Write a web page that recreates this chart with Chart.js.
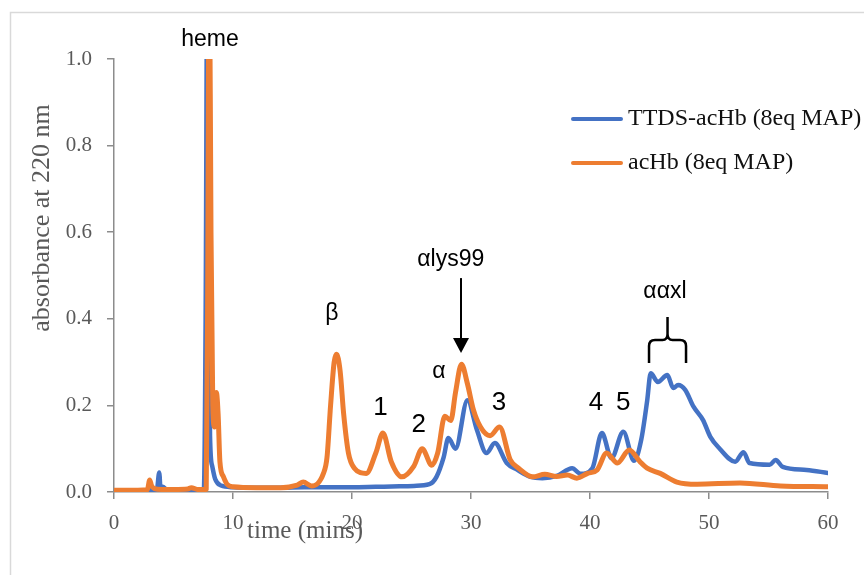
<!DOCTYPE html>
<html lang="en">
<head>
  <meta charset="UTF-8" />
  <title>acHb HPLC trace</title>
  <script src="https://cdn.jsdelivr.net/npm/chart.js"></script>
  <style>
    body { margin: 0; background: #fff; }
    .chart-box { position: relative; width: 864px; height: 575px; }
  </style>
</head>
<body>
  <div class="chart-box"><canvas id="hplcChart"></canvas></div>

  <script>
    // series (time in mins, absorbance at 220 nm)
    const ttdsTime = [0, 1, 2, 3, 3.6, 3.8, 3.95, 4.1, 4.4, 5, 6, 7, 7.55, 7.7, 7.85, 7.98, 8.07, 8.25, 8.5, 9, 10,
      12, 14, 16, 18, 20, 22, 24, 25.2, 26.5, 27.1, 27.7, 28.1, 28.7, 29.7, 30.5, 31.3, 32.0, 33, 33.9, 35, 36,
      37.2, 38.5, 39.2, 40.2, 41.0, 41.8, 42.8, 43.7, 44.3, 44.8, 45.1, 45.7, 46.5, 47, 47.4, 48, 48.7, 49.5,
      50.1, 50.9, 52.2, 52.9, 53.4, 55.1, 55.6, 56.2, 58.2, 60];
    const ttdsAbs = [0.003, 0.003, 0.003, 0.004, 0.005, 0.045, -0.012, 0.012, 0.006, 0.005, 0.005, 0.005, 0.006, 0.4, 1.3, 0.5, 0.13, 0.06, 0.03, 0.015, 0.011,
      0.01, 0.01, 0.011, 0.011, 0.011, 0.012, 0.013, 0.014, 0.018, 0.035, 0.08, 0.125, 0.1, 0.212, 0.143, 0.09, 0.113, 0.067, 0.051, 0.035, 0.032,
      0.037, 0.055, 0.042, 0.055, 0.136, 0.078, 0.139, 0.072, 0.12, 0.21, 0.274, 0.254, 0.27, 0.24, 0.247, 0.236, 0.197, 0.166,
      0.128, 0.10, 0.07, 0.092, 0.067, 0.063, 0.074, 0.058, 0.051, 0.044];

    const achbTime = [0, 1, 2, 2.8, 3.0, 3.15, 3.4, 4, 5, 6.2, 6.5, 7, 7.75, 7.88, 8.0, 8.15, 8.3, 8.45, 8.6, 8.75, 8.9, 9.2, 9.5, 10,
      12, 14, 15.4, 15.9, 16.6, 17.6, 17.9, 18.2, 18.5, 18.7, 19.0, 19.3, 19.7, 20.2, 21.2, 22.0, 22.6, 23.3, 24.2, 25.2, 25.9, 26.7,
      27.2, 27.8, 28.3, 28.7, 29.2, 29.7, 30.2, 30.8, 31.6, 32.4, 33.3, 34, 35.2, 36.2, 37.2, 38.1, 38.9, 39.8, 40.6, 41.4, 42.3,
      43.3, 44.2, 44.8, 45.9, 47.3, 49, 52.6, 56, 60];
    const achbAbs = [0.004, 0.004, 0.004, 0.005, 0.028, 0.015, 0.008, 0.006, 0.006, 0.007, 0.01, 0.006, 0.006, 0.5, 1.3, 0.6, 0.2, 0.15, 0.23, 0.18, 0.07, 0.035, 0.018, 0.012,
      0.01, 0.01, 0.016, 0.023, 0.014, 0.043, 0.08, 0.2, 0.30, 0.318, 0.28, 0.18, 0.09, 0.055, 0.043, 0.09, 0.136, 0.07, 0.035, 0.06, 0.10, 0.062,
      0.09, 0.175, 0.165, 0.23, 0.295, 0.25, 0.19, 0.15, 0.13, 0.15, 0.074, 0.055, 0.035, 0.041, 0.036, 0.039, 0.032, 0.043, 0.051, 0.09, 0.067,
      0.097, 0.07, 0.055, 0.043, 0.023, 0.018, 0.021, 0.014, 0.012];

    const seriesNames = ["TTDS-acHb (8eq MAP)", "acHb (8eq MAP)"];
    const seriesColors = ["#4472C4", "#ED7D31"];
    const xTicks = [0, 10, 20, 30, 40, 50, 60];
    const yTicks = [0, 0.2, 0.4, 0.6, 0.8, 1.0];

    // peak labels, placed in data units
    const peakLabels = ["heme", "β", "1", "2", "α", "αlys99", "3", "4", "5", "ααxl"];
    const peakLabelTime = [8.07, 18.3, 22.4, 25.6, 27.3, 28.3, 32.35, 40.5, 42.8, 46.3];
    const peakLabelAbs = [1.044, 0.413, 0.194, 0.155, 0.279, 0.536, 0.206, 0.206, 0.206, 0.462];

    const toPoints = (xs, ys) => xs.map((x, i) => ({ x: x, y: ys[i] }));

    const decorations = {
      id: "decorations",
      beforeDraw(chart) {
        const ctx = chart.ctx;
        ctx.save();
        ctx.strokeStyle = "#d9d9d9";
        ctx.lineWidth = 1.5;
        ctx.beginPath();
        ctx.moveTo(10.5, 580);
        ctx.lineTo(10.5, 12.5);
        ctx.lineTo(870, 12.5);
        ctx.stroke();
        ctx.restore();
      },
      afterDraw(chart) {
        const ctx = chart.ctx;
        const xs = chart.scales.x, ys = chart.scales.y;
        ctx.save();

        // axis titles
        ctx.fillStyle = "#595959";
        ctx.font = "25px 'Liberation Serif'";
        ctx.textAlign = "center";
        ctx.textBaseline = "middle";
        ctx.fillText("time (mins)", 305, 531);

        ctx.font = "26px 'Liberation Serif'";
        ctx.translate(42, 218);
        ctx.rotate(-Math.PI / 2);
        ctx.fillText("absorbance at 220 nm", 0, 0);
        ctx.setTransform(1, 0, 0, 1, 0, 0);

        // legend
        chart.data.datasets.forEach((ds, i) => {
          const y = 119 + i * 44;
          ctx.strokeStyle = ds.borderColor;
          ctx.lineWidth = 4;
          ctx.lineCap = "round";
          ctx.beginPath();
          ctx.moveTo(573, y);
          ctx.lineTo(621, y);
          ctx.stroke();
          ctx.fillStyle = "#111";
          ctx.font = "24px 'Liberation Serif'";
          ctx.textAlign = "left";
          ctx.fillText(ds.label, 628, y);
        });

        // peak labels
        ctx.fillStyle = "#000";
        ctx.textAlign = "center";
        peakLabels.forEach((txt, i) => {
          ctx.font = /^\d$/.test(txt) ? "26px 'Liberation Sans'" : "23px 'Liberation Sans'";
          ctx.fillText(txt, xs.getPixelForValue(peakLabelTime[i]), ys.getPixelForValue(peakLabelAbs[i]));
        });

        // arrow to lys99 peak
        const ax = xs.getPixelForValue(29.16);
        const aTop = ys.getPixelForValue(0.494), aTip = ys.getPixelForValue(0.321);
        ctx.strokeStyle = "#000";
        ctx.lineWidth = 2;
        ctx.lineCap = "butt";
        ctx.beginPath();
        ctx.moveTo(ax, aTop);
        ctx.lineTo(ax, aTip - 12);
        ctx.stroke();
        ctx.beginPath();
        ctx.moveTo(ax - 8, aTip - 15);
        ctx.lineTo(ax + 8, aTip - 15);
        ctx.lineTo(ax, aTip);
        ctx.closePath();
        ctx.fill();

        // brace over the crosslinked hump
        const bl = xs.getPixelForValue(44.96), br = xs.getPixelForValue(48.07);
        const bm = (bl + br) / 2;
        const bTop = ys.getPixelForValue(0.404), bBar = ys.getPixelForValue(0.351), bEnd = ys.getPixelForValue(0.298);
        ctx.lineWidth = 2.5;
        ctx.beginPath();
        ctx.moveTo(bl, bEnd);
        ctx.lineTo(bl, bBar + 6);
        ctx.quadraticCurveTo(bl, bBar, bl + 6, bBar);
        ctx.lineTo(bm - 5, bBar);
        ctx.quadraticCurveTo(bm, bBar, bm, bBar - 6);
        ctx.lineTo(bm, bTop);
        ctx.moveTo(bm, bBar - 6);
        ctx.quadraticCurveTo(bm, bBar, bm + 5, bBar);
        ctx.lineTo(br - 6, bBar);
        ctx.quadraticCurveTo(br, bBar, br, bBar + 6);
        ctx.lineTo(br, bEnd);
        ctx.stroke();

        ctx.restore();
      }
    };

    new Chart(document.getElementById("hplcChart"), {
      type: "line",
      data: {
        datasets: [{
          label: seriesNames[0],
          data: toPoints(ttdsTime, ttdsAbs),
          borderColor: seriesColors[0],
          borderWidth: 4.5,
          order: 1
        }, {
          label: seriesNames[1],
          data: toPoints(achbTime, achbAbs),
          borderColor: seriesColors[1],
          borderWidth: 5,
          order: 0
        }]
      },
      options: {
        responsive: true,
        maintainAspectRatio: false,
        animation: false,
        layout: { padding: { left: 0, top: 59, right: 36, bottom: 0 } },
        elements: {
          point: { radius: 0 },
          line: { cubicInterpolationMode: "monotone", borderJoinStyle: "round", borderCapStyle: "round" }
        },
        plugins: { legend: { display: false }, tooltip: { enabled: false } },
        scales: {
          x: {
            type: "linear",
            min: 0,
            max: 60,
            afterFit(scale) { scale.height = 83; },
            afterBuildTicks(scale) { scale.ticks = xTicks.map(v => ({ value: v })); },
            ticks: { color: "#595959", font: { family: "Liberation Serif", size: 21 }, padding: 12, maxRotation: 0 },
            grid: { drawOnChartArea: false, tickLength: 7, color: "#8c8c8c", lineWidth: 1.5 },
            border: { color: "#8c8c8c", width: 1.5 }
          },
          y: {
            min: 0,
            max: 1,
            afterFit(scale) { scale.width = 114; },
            afterBuildTicks(scale) { scale.ticks = yTicks.map(v => ({ value: v })); },
            ticks: { color: "#595959", font: { family: "Liberation Serif", size: 21 }, padding: 15, callback: v => v.toFixed(1) },
            grid: { drawOnChartArea: false, tickLength: 7, color: "#8c8c8c", lineWidth: 1.5 },
            border: { color: "#8c8c8c", width: 1.5 }
          }
        }
      },
      plugins: [decorations]
    });
  </script>
</body>
</html>
